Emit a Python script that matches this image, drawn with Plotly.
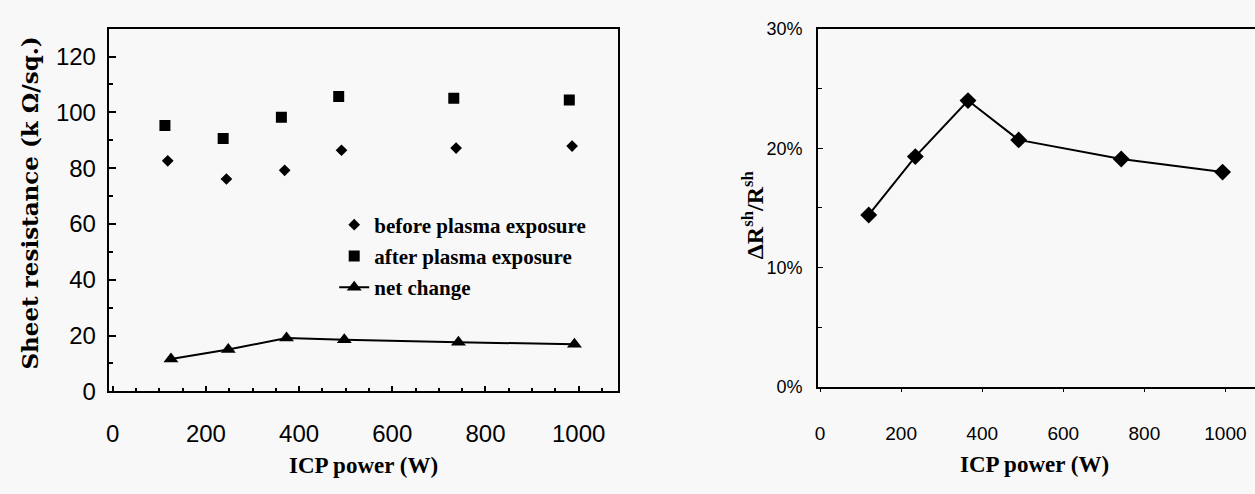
import plotly.graph_objects as go

# ---- data ----
# Left panel: sheet resistance (k ohm/sq) vs ICP power (W)
power_before = [118, 244, 369, 491, 737, 986]
rs_before = [82.6, 76.1, 79.2, 86.4, 87.2, 87.9]

power_after = [112, 237, 362, 485, 732, 980]
rs_after = [95.3, 90.6, 98.2, 105.7, 105.0, 104.4]

power_net = [125, 248, 373, 497, 742, 991]
rs_net = [11.6, 15.0, 19.1, 18.5, 17.6, 16.9]

# Right panel: relative change of sheet resistance
power_ratio = [120, 235, 365, 490, 743, 993]
ratio = [0.144, 0.193, 0.240, 0.207, 0.191, 0.180]

left_xticks = [0, 200, 400, 600, 800, 1000]
right_yticks = [0, 0.1, 0.2, 0.3]

W, H = 1255, 494
BG = "#f8f8f8"
SANS = "Liberation Sans, Arial, sans-serif"
SERIF = "DejaVu Serif, serif"
TIMES = "Liberation Serif, Times New Roman, serif"


def px(x):
    return x / W


def py(y):
    return (H - y) / H


fig = go.Figure()

fig.add_trace(go.Scatter(
    x=power_before, y=rs_before, mode="markers", name="before plasma exposure",
    legendgroup="a",
    marker=dict(symbol="diamond", size=9, color="black"),
    xaxis="x", yaxis="y"))
fig.add_trace(go.Scatter(
    x=power_after, y=rs_after, mode="markers", name="after plasma exposure",
    legendgroup="b",
    marker=dict(symbol="square", size=11, color="black"),
    xaxis="x", yaxis="y"))
fig.add_trace(go.Scatter(
    x=power_net, y=rs_net, mode="lines+markers", name="net change",
    legendgroup="c",
    line=dict(color="black", width=2),
    marker=dict(symbol="triangle-up", size=13, color="black"),
    xaxis="x", yaxis="y"))
fig.add_trace(go.Scatter(
    x=power_ratio, y=ratio, mode="lines+markers", showlegend=False,
    line=dict(color="black", width=2),
    marker=dict(symbol="diamond", size=13, color="black"),
    xaxis="x2", yaxis="y2"))

axis_common = dict(showline=True, linecolor="black", linewidth=2,
                   showgrid=False, zeroline=False, color="black")

fig.update_layout(
    width=W, height=H,
    margin=dict(l=0, r=0, t=0, b=0),
    paper_bgcolor=BG, plot_bgcolor=BG,
    xaxis=dict(**axis_common, domain=[px(106), px(616)], range=[-8.6, 1083.5],
               anchor="y", mirror=True, tickvals=left_xticks,
               ticks="inside", ticklen=5, tickcolor="black", tickwidth=1.5,
               minor=dict(dtick=50, tick0=0, ticks="inside", ticklen=3, tickcolor="black"),
               tickfont=dict(family=SANS, size=24, color="black"),
               ticklabelstandoff=20),
    yaxis=dict(**axis_common, domain=[py(400), py(19.5)], range=[0, 130],
               anchor="x", mirror=True, tick0=0, dtick=20,
               ticks="inside", ticklen=7, tickcolor="black", tickwidth=1.5,
               minor=dict(dtick=10, tick0=0, ticks="inside", ticklen=4, tickcolor="black"),
               tickfont=dict(family=SANS, size=24, color="black"),
               ticklabelstandoff=6),
    xaxis2=dict(**axis_common, domain=[px(817), 1.0], range=[-5, 1073],
                anchor="y2", mirror=True, tick0=0, dtick=200,
                ticks="outside", ticklen=3, tickcolor="black",
                tickfont=dict(family=SANS, size=19, color="black"),
                ticklabelstandoff=26),
    yaxis2=dict(**axis_common, domain=[py(395), py(20)], range=[0, 0.3],
                anchor="x2", mirror=False, tickvals=right_yticks, tickformat=".0%",
                ticks="inside", ticklen=5, tickcolor="black",
                minor=dict(dtick=0.05, tick0=0, ticks="inside", ticklen=4, tickcolor="black"),
                tickfont=dict(family=SANS, size=18, color="black"),
                ticklabelstandoff=10),
    legend=dict(x=px(332), y=py(204), xanchor="left", yanchor="top",
                bgcolor="rgba(0,0,0,0)", borderwidth=0,
                font=dict(family=TIMES, size=21, color="black", weight="bold"),
                traceorder="grouped", tracegroupgap=1),
    showlegend=True,
)

annots = [
    dict(text="Sheet resistance (k Ω/sq.)", x=px(27), y=py(202), textangle=-90,
         font=dict(family=SERIF, size=23, color="black", weight="bold")),
    dict(text="ICP power (W)", x=px(361), y=py(478),
         font=dict(family=TIMES, size=23, color="black", weight="bold")),
    dict(text="ICP power (W)", x=px(1034), y=py(477),
         font=dict(family=TIMES, size=23, color="black", weight="bold")),
    dict(text="ΔR<sup>sh</sup>/R<sup>sh</sup>", x=px(752), y=py(215), textangle=-90,
         font=dict(family=TIMES, size=24, color="black", weight="bold")),
]
for a in annots:
    fig.add_annotation(xref="paper", yref="paper", showarrow=False,
                       xanchor="center", yanchor="middle", **a)

fig.write_html("out.html")
